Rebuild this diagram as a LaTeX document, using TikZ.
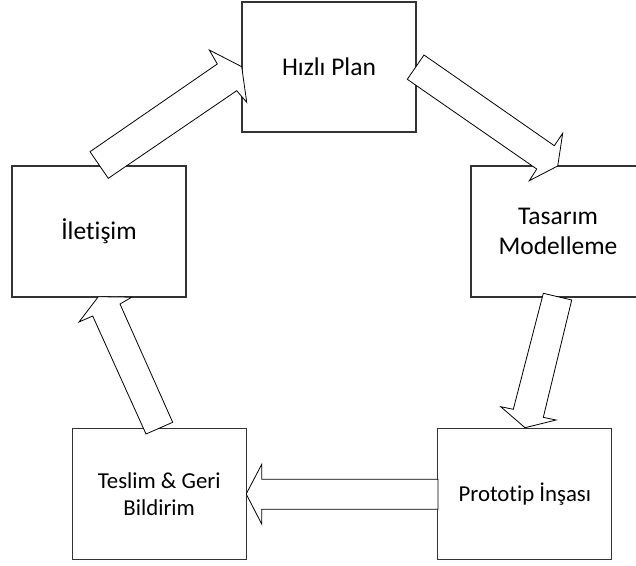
\documentclass[tikz,border=0pt]{standalone}
\usepackage{fontspec}
\setmainfont{Carlito}[Ligatures=NoCommon]
\begin{document}
\begin{tikzpicture}[x=1pt,y=-1pt,
  box/.style={draw=black!80,line width=1.1pt,fill=white,inner sep=0pt,outer sep=0pt,
    minimum width=174pt,minimum height=131pt,align=center},
  bigtext/.style={font=\fontsize{25.5}{30}\selectfont},
  smalltext/.style={font=\fontsize{22.8}{27}\selectfont},
  blockarrow/.style={draw=black,line width=0.8pt,fill=white,line join=miter}]
\useasboundingbox (0,0) rectangle (636,565);
% boxes
\node[box,bigtext,minimum height=130pt] (plan) at (329,67) {Hızlı Plan};
\node[box,bigtext] (ilet) at (99,231.5) {İletişim};
\node[box,bigtext] (tasarim) at (558,231.5) {Tasarım\\Modelleme};
\node[box,smalltext] (teslim) at (159.2,493.7) {Teslim \& Geri\\Bildirim};
\node[box,smalltext] (proto) at (524.9,493.7) {Prototip İnşası};
% block arrows
% İletişim -> Hızlı Plan
\draw[blockarrow] (90,151.7) -- (217.3,64) -- (209.3,50) -- (241.7,66.7)
  -- (246.7,102.3) -- (236.7,90.7) -- (108.3,178.3) -- cycle;
% Hızlı Plan -> Tasarım Modelleme
\draw[blockarrow] (424,55) -- (554.3,145.7) -- (562.7,133.3) -- (557.7,166)
  -- (529.3,180.7) -- (536.7,169) -- (407.3,79.3) -- cycle;
% Tasarım Modelleme -> Prototip İnşası
\draw[blockarrow] (543.3,293.3) -- (571.7,300) -- (543.3,417.3) -- (556,420)
  -- (525,427.7) -- (500.7,406.7) -- (513.3,409.3) -- cycle;
% Prototip İnşası -> Teslim & Geri Bildirim
\draw[blockarrow] (proto.west |- 0,479.3) -- (261.7,479.3) -- (261.7,464.3)
  -- (teslim.east |- 0,494) -- (261.7,524) -- (261.7,509.3) -- (proto.west |- 0,509.3) -- cycle;
% Teslim & Geri Bildirim -> İletişim
\draw[blockarrow] (146,434) -- (92.7,316) -- (79,322) -- (98.3,296.7)
  -- (131.7,297.2) -- (120,304) -- (172.7,422.3) -- cycle;
\end{tikzpicture}
\end{document}
